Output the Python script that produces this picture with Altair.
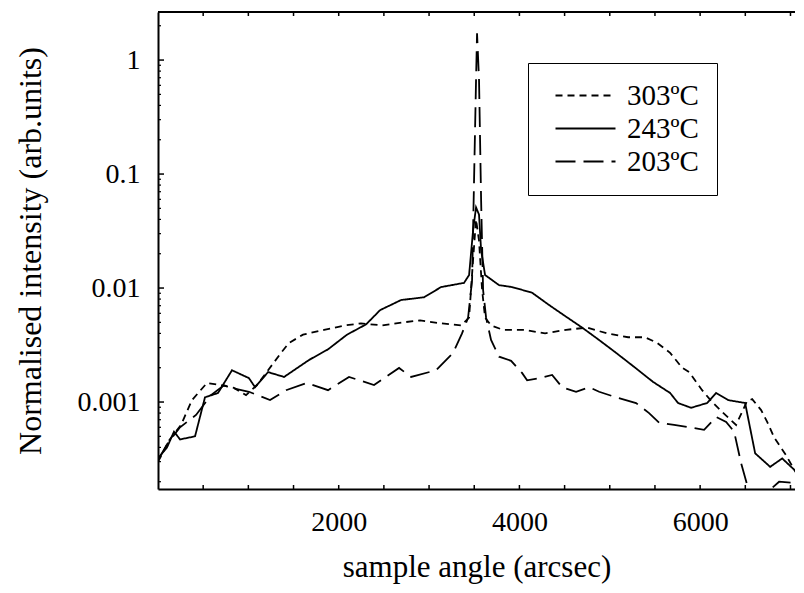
import altair as alt
import pandas as pd

# ---------------- data ----------------
series_labels = ["303ºC", "243ºC", "203ºC"]

angle_303 = [0, 122, 255, 376, 542, 697, 841, 974, 1096, 1196, 1362, 1450, 1605, 1838,
             2070, 2247, 2480, 2712, 2900, 3133, 3354, 3443, 3487, 3520, 3553, 3587,
             3620, 3686, 3819, 4052, 4284, 4517, 4749, 4970, 5203, 5391, 5524, 5668,
             5800, 5878, 6022, 6133, 6243, 6398, 6520, 6576, 6675, 6742, 6819, 6952, 7074]
intensity_303 = [2.98e-4, 4.6e-4, 6.3e-4, 1.04e-3, 1.47e-3, 1.41e-3, 1.33e-3, 1.15e-3,
                 1.41e-3, 1.8e-3, 2.7e-3, 3.3e-3, 3.9e-3, 4.3e-3, 4.7e-3, 4.9e-3, 4.7e-3,
                 5.0e-3, 5.2e-3, 4.9e-3, 4.7e-3, 5.5e-3, 0.0177, 0.04, 0.026, 9.6e-3,
                 5.5e-3, 4.7e-3, 4.3e-3, 4.3e-3, 4.0e-3, 4.3e-3, 4.5e-3, 4.0e-3, 3.7e-3,
                 3.7e-3, 3.3e-3, 2.7e-3, 2.0e-3, 1.83e-3, 1.27e-3, 1.0e-3, 8.2e-4, 6.3e-4,
                 1.02e-3, 1.06e-3, 8.5e-4, 6.7e-4, 4.9e-4, 3.4e-4, 2.3e-4]

angle_243 = [0, 100, 177, 244, 410, 520, 664, 819, 1007, 1074, 1218, 1395, 1672, 1882,
             2092, 2303, 2458, 2690, 2945, 3133, 3387, 3443, 3487, 3520, 3553, 3576,
             3620, 3775, 3919, 4140, 4328, 4517, 4694, 4882, 5070, 5247, 5480, 5668,
             5756, 5900, 6077, 6177, 6310, 6498, 6609, 6775, 6908, 7007, 7129]
intensity_243 = [3.2e-4, 4.0e-4, 5.5e-4, 4.7e-4, 5.0e-4, 1.1e-3, 1.2e-3, 1.9e-3, 1.62e-3,
                 1.35e-3, 1.83e-3, 1.66e-3, 2.34e-3, 2.9e-3, 3.9e-3, 4.8e-3, 6.4e-3,
                 7.85e-3, 8.3e-3, 0.0102, 0.0111, 0.013, 0.032, 0.051, 0.044, 0.0215,
                 0.013, 0.0106, 0.0102, 9.1e-3, 7.1e-3, 5.6e-3, 4.5e-3, 3.5e-3, 2.7e-3,
                 2.1e-3, 1.5e-3, 1.2e-3, 9.8e-4, 8.9e-4, 9.8e-4, 1.2e-3, 1.04e-3, 9.8e-4,
                 3.55e-4, 2.7e-4, 3.2e-4, 2.7e-4, 2.2e-4]

angle_203 = [0, 111, 244, 421, 587, 731, 819, 1007, 1240, 1417, 1649, 1882, 2114, 2391,
             2668, 2801, 3077, 3266, 3365, 3432, 3476, 3498, 3520, 3531, 3553, 3576,
             3598, 3631, 3686, 3775, 3908, 4029, 4085, 4218, 4362, 4472, 4627, 4771,
             4882, 5070, 5291, 5435, 5546, 5712, 5934, 6044, 6177, 6288, 6376, 6454,
             6542, 6708, 6874, 7041]
intensity_203 = [3.1e-4, 4.4e-4, 6.0e-4, 7.7e-4, 1.15e-3, 1.4e-3, 1.33e-3, 1.23e-3,
                 1.04e-3, 1.27e-3, 1.47e-3, 1.27e-3, 1.66e-3, 1.41e-3, 1.99e-3, 1.66e-3,
                 1.9e-3, 2.7e-3, 4.0e-3, 5.5e-3, 0.0117, 0.089, 0.67, 1.72, 0.67, 0.059,
                 9.6e-3, 5.5e-3, 3.5e-3, 2.5e-3, 2.3e-3, 1.8e-3, 1.55e-3, 1.62e-3,
                 1.73e-3, 1.35e-3, 1.23e-3, 1.35e-3, 1.23e-3, 1.1e-3, 9.8e-4, 8.0e-4,
                 6.6e-4, 6.3e-4, 5.9e-4, 5.7e-4, 7.4e-4, 6.7e-4, 5.5e-4, 2.9e-4,
                 1.63e-4, 1.53e-4, 2.0e-4, 1.95e-4]

x_tick_labels = [2000, 4000, 6000]
x_minor_ticks = [500, 1000, 1500, 2000, 2500, 3000, 3500, 4000, 4500, 5000, 5500,
                 6000, 6500, 7000]
y_tick_labels = [0.001, 0.01, 0.1, 1]
y_minor_ticks = [2e-4, 3e-4, 4e-4, 5e-4, 6e-4, 7e-4, 8e-4, 9e-4,
                 2e-3, 3e-3, 4e-3, 5e-3, 6e-3, 7e-3, 8e-3, 9e-3,
                 2e-2, 3e-2, 4e-2, 5e-2, 6e-2, 7e-2, 8e-2, 9e-2,
                 0.2, 0.3, 0.4, 0.5, 0.6, 0.7, 0.8, 0.9, 2]

# ---------------- build tables ----------------
rows = []
for lab, xs, vs in zip(series_labels,
                       [angle_303, angle_243, angle_203],
                       [intensity_303, intensity_243, intensity_203]):
    for x, v in zip(xs, vs):
        rows.append({"series": lab, "angle": x, "intensity": v})
df = pd.DataFrame(rows)

W, H = 637, 477
FONT = "Liberation Serif"

xscale = alt.Scale(domain=[0, 7050], nice=False, zero=False)
yscale = alt.Scale(type="log", domain=[1.726e-4, 2.64], nice=False)

x_axis = alt.Axis(values=x_tick_labels, format="d", title="sample angle (arcsec)",
                  ticks=False, tickSize=0, grid=False, labelPadding=19,
                  titlePadding=16, domainColor="black", domainWidth=2,
                  labelFont=FONT, labelFontSize=28, labelColor="black",
                  titleFont=FONT, titleFontSize=31, titleFontWeight="normal",
                  titleColor="black")
y_axis = alt.Axis(values=y_tick_labels, format=".3~f",
                  title="Normalised intensity (arb.units)",
                  ticks=False, tickSize=0, grid=False, labelPadding=18,
                  titlePadding=30, domainColor="black", domainWidth=2,
                  labelFont=FONT, labelFontSize=28, labelColor="black",
                  titleFont=FONT, titleFontSize=32, titleFontWeight="normal",
                  titleColor="black")

lines = alt.Chart(df).mark_line(clip=True, color="black", strokeWidth=1.8).encode(
    x=alt.X("angle:Q", scale=xscale, axis=x_axis),
    y=alt.Y("intensity:Q", scale=yscale, axis=y_axis),
    strokeDash=alt.StrokeDash(
        "series:N",
        scale=alt.Scale(domain=series_labels, range=[[7, 5], [1, 0], [20, 8]]),
        legend=alt.Legend(title=None, orient="none", legendX=370, legendY=51,
                          strokeColor="black", fillColor="white", padding=18,
                          symbolType="M-3,0H3", symbolSize=400, symbolStrokeWidth=2,
                          symbolStrokeColor="black", symbolOffset=25, labelOffset=27,
                          labelFont=FONT, labelFontSize=29, labelColor="black",
                          rowPadding=3)),
)

xt = pd.DataFrame({"angle": x_minor_ticks})
bottom_ticks = alt.Chart(xt).mark_rule(color="black", strokeWidth=1.5).encode(
    x=alt.X("angle:Q", scale=xscale, axis=x_axis),
    y=alt.value(H), y2=alt.value(H - 4))
top_ticks = alt.Chart(xt).mark_rule(color="black", strokeWidth=1.5).encode(
    x=alt.X("angle:Q", scale=xscale, axis=x_axis),
    y=alt.value(0), y2=alt.value(4))

ymaj = pd.DataFrame({"intensity": y_tick_labels})
ymin = pd.DataFrame({"intensity": y_minor_ticks})
left_major = alt.Chart(ymaj).mark_rule(color="black", strokeWidth=1.5).encode(
    y=alt.Y("intensity:Q", scale=yscale, axis=y_axis),
    x=alt.value(0), x2=alt.value(6))
left_minor = alt.Chart(ymin).mark_rule(color="black", strokeWidth=1.2).encode(
    y=alt.Y("intensity:Q", scale=yscale, axis=y_axis),
    x=alt.value(0), x2=alt.value(3))

top_border = alt.Chart(pd.DataFrame({"k": [0]})).mark_rule(
    color="black", strokeWidth=2).encode(
    x=alt.value(0), x2=alt.value(W), y=alt.value(0))

chart = alt.layer(lines, bottom_ticks, top_ticks, left_major, left_minor, top_border).properties(
    width=W, height=H,
    padding={"left": 150, "top": 4, "right": 0, "bottom": 96},
    autosize="none",
    background="white",
).configure_view(stroke=None)

chart.save("out.html", embed_options={"renderer": "svg", "actions": False})
